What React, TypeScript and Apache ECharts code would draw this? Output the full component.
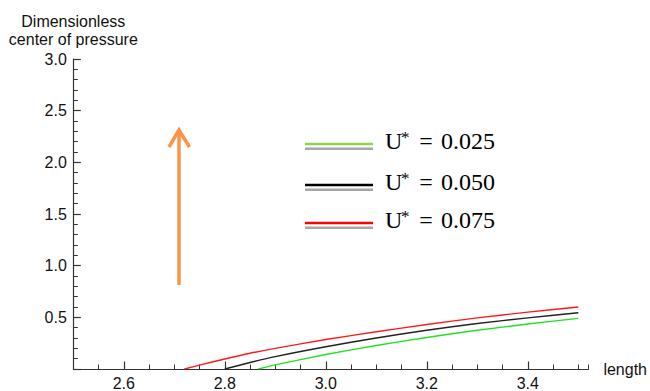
import React, { useEffect, useRef } from "react";
import * as echarts from "echarts";

// Dimensionless center of pressure against length for three U* values
const uLabels = ["0.025", "0.050", "0.075"];
const curveColors = ["#22e022", "#222222", "#ff1a1a"];
const keyColors = ["#92d050", "#000000", "#ff0000"];

const lengthGreen = [2.866, 2.9, 3.0, 3.1, 3.2, 3.3, 3.4, 3.5];
const copGreen = [0, 0.04, 0.14, 0.228, 0.305, 0.375, 0.435, 0.49];

const lengthBlack = [2.8, 2.85, 2.9, 3.0, 3.1, 3.2, 3.3, 3.4, 3.5];
const copBlack = [0, 0.063, 0.12, 0.215, 0.3, 0.375, 0.44, 0.495, 0.545];

const lengthRed = [2.72, 2.75, 2.8, 2.85, 2.9, 3.0, 3.1, 3.2, 3.3, 3.4, 3.5];
const copRed = [0, 0.038, 0.097, 0.152, 0.2, 0.285, 0.36, 0.43, 0.495, 0.55, 0.6];

const xMajorTicks = [2.6, 2.8, 3.0, 3.2, 3.4];

const zip = (xs: number[], ys: number[]) => xs.map((x, i) => [x, ys[i]]);

const SANS = "'Liberation Sans', Arial, sans-serif";
const SERIF = "'Liberation Serif', 'Times New Roman', serif";
const INK = "#111";

export default function App() {
  const ref = useRef<HTMLDivElement>(null);

  useEffect(() => {
    if (!ref.current) return;
    const chart = echarts.init(ref.current, undefined, { renderer: "svg" });

    const seriesData = [zip(lengthGreen, copGreen), zip(lengthBlack, copBlack), zip(lengthRed, copRed)];

    const rowY = [141, 182, 220];
    const keyItems: any[] = [];
    rowY.forEach((y, i) => {
      keyItems.push(
        { type: "line", shape: { x1: 305, y1: y + 3, x2: 373, y2: y + 3 }, style: { stroke: keyColors[i], lineWidth: 2.6 } },
        { type: "line", shape: { x1: 305, y1: y + 7.7, x2: 373, y2: y + 7.7 }, style: { stroke: "#a6a6a6", lineWidth: 2.6 } },
        { type: "text", x: 385, y, style: { text: "U", font: `24px ${SERIF}`, fill: "#000", verticalAlign: "middle" } },
        { type: "text", x: 401, y: y - 3.5, style: { text: "*", font: `17px ${SERIF}`, fill: "#000", verticalAlign: "middle" } },
        { type: "text", x: 426, y, style: { text: "=", font: `24px ${SERIF}`, fill: "#000", align: "center", verticalAlign: "middle" } },
        { type: "text", x: 441, y, style: { text: uLabels[i], font: `24px ${SERIF}`, fill: "#000", verticalAlign: "middle" } }
      );
    });

    const arrowColor = "#f79646";
    const arrow = [
      { type: "line", shape: { x1: 179, y1: 285, x2: 179, y2: 131 }, style: { stroke: arrowColor, lineWidth: 3.5 } },
      {
        type: "polyline",
        shape: { points: [[169, 147], [179, 130], [189.5, 147]] },
        style: { stroke: arrowColor, lineWidth: 3.5, fill: "none", lineJoin: "miter" },
      },
    ];

    const axisLine = { show: true, lineStyle: { color: "#333", width: 1.2 } };

    chart.setOption({
      animation: false,
      backgroundColor: "#fff",
      grid: { left: 73.3, right: 57, top: 59, bottom: 18.5, containLabel: false },
      xAxis: [
        {
          type: "value",
          min: 2.5,
          max: 3.52,
          interval: 0.05,
          position: "bottom",
          axisLine,
          axisTick: { show: true, inside: true, length: 4.5, lineStyle: { color: "#333", width: 1 } },
          axisLabel: { show: false },
          splitLine: { show: false },
          name: "length",
          nameLocation: "end",
          nameGap: 15,
          nameTextStyle: { fontFamily: SANS, fontSize: 16, color: INK, verticalAlign: "middle" },
        },
        {
          type: "value",
          min: 2.5,
          max: 3.52,
          position: "bottom",
          axisLine: { show: false },
          axisTick: { show: true, inside: true, length: 7.5, customValues: xMajorTicks, lineStyle: { color: "#333", width: 1.2 } },
          axisLabel: {
            show: true,
            customValues: xMajorTicks,
            margin: 6,
            fontFamily: SANS,
            fontSize: 16,
            color: INK,
            formatter: (v: number) => v.toFixed(1),
          },
          splitLine: { show: false },
        },
      ],
      yAxis: {
        type: "value",
        min: 0,
        max: 3,
        interval: 0.5,
        axisLine,
        axisTick: { show: true, inside: true, length: 7.5, lineStyle: { color: "#333", width: 1.2 } },
        minorTick: { show: true, splitNumber: 5, length: 4.5, lineStyle: { color: "#333", width: 1 } },
        axisLabel: {
          showMinLabel: false,
          margin: 6.5,
          fontFamily: SANS,
          fontSize: 16,
          color: INK,
          formatter: (v: number) => v.toFixed(1),
        },
        splitLine: { show: false },
        minorSplitLine: { show: false },
        name: "Dimensionless\ncenter of pressure",
        nameLocation: "end",
        nameGap: 11,
        nameTextStyle: { fontFamily: SANS, fontSize: 16, color: INK, align: "center", lineHeight: 18 },
      },
      series: seriesData.map((data, i) => ({
        name: `U* = ${uLabels[i]}`,
        type: "line",
        xAxisIndex: 0,
        data,
        showSymbol: false,
        smooth: 0.25,
        clip: true,
        lineStyle: { color: curveColors[i], width: 1.4 },
        z: 3,
      })),
      graphic: [...keyItems, ...arrow],
    });

    return () => chart.dispose();
  }, []);

  return <div ref={ref} style={{ position: "fixed", left: 0, top: 0, width: 650, height: 391 }} />;
}
